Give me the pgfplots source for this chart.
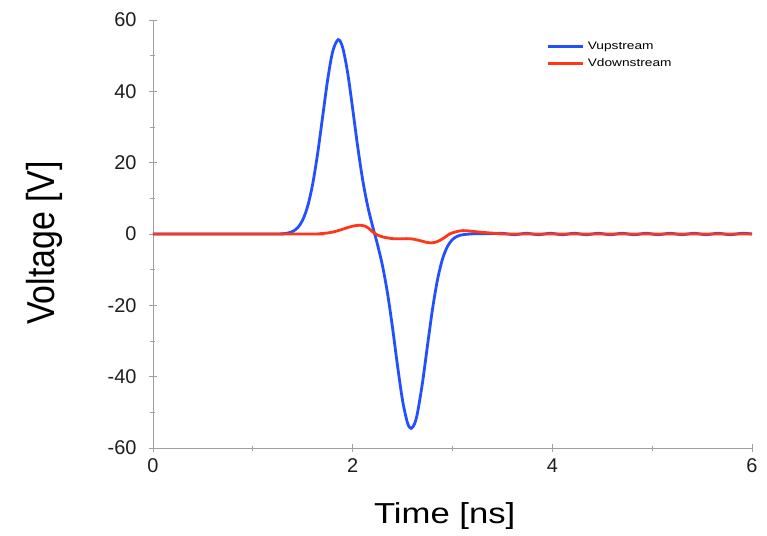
\documentclass[border=0pt]{standalone}
\usepackage{pgfplots}
\pgfplotsset{compat=1.18}
\usepackage{fontspec}
\setmainfont{Liberation Sans}
\definecolor{vblue}{RGB}{35,80,255}
\definecolor{vred}{RGB}{255,55,25}
\definecolor{axgray}{RGB}{160,160,160}
\definecolor{txt}{RGB}{30,30,30}
\begin{document}
\begin{tikzpicture}
\begin{axis}[
  name=ax,
  scale only axis,
  width=599bp, height=428bp,
  xmin=0, xmax=6, ymin=-60, ymax=60,
  axis lines*=left,
  axis line style={draw=axgray, line width=0.8bp, -},
  every tick/.style={draw=axgray, line width=0.8bp},
  tick align=center,
  major tick length=8bp,
  minor tick length=5bp,
  xtick={0,2,4,6}, minor x tick num=1,
  ytick={-60,-40,-20,0,20,40,60}, minor y tick num=1,
  /pgf/number format/assume math mode=true,
  tick label style={font=\fontsize{20}{24}\selectfont, text=txt},
  yticklabel style={xshift=-9bp},
  xticklabel style={yshift=-3bp},
  xlabel={\scalebox{1.2}[1]{\fontsize{29}{34}\selectfont Time [ns]}},
  ylabel={\scalebox{1}[1.15]{\fontsize{34}{40}\selectfont Voltage [V]}},
  xlabel style={at={(rel axis cs:0.487,0)}, anchor=base, yshift=-75bp, inner sep=0pt, text=black},
  ylabel style={at={(rel axis cs:0,0.479)}, anchor=base, yshift=98bp, inner sep=0pt, text=black},
  legend cell align=left,
  legend style={draw=none, fill=none, at={(rel axis cs:0.657,0.958)}, anchor=north west,
    inner sep=0pt, row sep=0pt,
    nodes={inner sep=3.5bp, text height=8bp, text depth=2bp, font=\fontsize{11}{13}\selectfont}},
  legend image code/.code={\draw[#1, line width=2.6bp] (0bp,0bp) -- (35bp,0bp);},
]
\addplot[vblue, line width=2.8bp, smooth] coordinates {
(0,0) (1.2,0) (1.30,0.09) (1.35,0.27) (1.40,0.73) (1.45,1.79) (1.50,3.96) (1.55,7.86)
(1.60,14.08) (1.65,22.73) (1.70,33.06) (1.75,43.33) (1.80,51.18) (1.855,54.5)
(1.90,52.25) (1.95,45.17) (2.00,35.14) (2.05,24.56) (2.10,15.23) (2.15,7.87)
(2.20,2.13) (2.25,-3.08) (2.30,-9.06) (2.35,-16.77) (2.40,-26.42) (2.45,-37.06)
(2.50,-46.72) (2.55,-53.05) (2.586,-54.5) (2.62,-53.2) (2.65,-50.05) (2.70,-41.58) (2.75,-31.14)
(2.80,-21.02) (2.85,-12.78) (2.90,-7.00) (2.95,-3.46) (3.00,-1.54) (3.05,-0.62)
(3.10,-0.22) (3.20,0.05) (3.30,0.1) (3.40,0.1)
(3.50,0.2) (3.62,-0.2) (3.74,0.2) (3.86,-0.2) (3.98,0.2) (4.10,-0.2) (4.22,0.2)
(4.34,-0.2) (4.46,0.2) (4.58,-0.2) (4.70,0.2) (4.82,-0.2) (4.94,0.2) (5.06,-0.2)
(5.18,0.2) (5.30,-0.2) (5.42,0.2) (5.54,-0.2) (5.66,0.2) (5.78,-0.2) (5.90,0.2) (6.0,0)
};
\addlegendentry{\scalebox{1.25}[1]{Vupstream}}
\addplot[vred, line width=2.8bp, smooth] coordinates {
(0,0) (1.60,0) (1.65,0.05) (1.70,0.15) (1.75,0.3) (1.80,0.55) (1.85,0.9) (1.90,1.35)
(1.95,1.8) (2.00,2.2) (2.04,2.4) (2.08,2.45) (2.12,2.25) (2.16,1.6) (2.20,0.6)
(2.25,-0.3) (2.30,-0.8) (2.35,-1.1) (2.40,-1.3) (2.47,-1.35) (2.54,-1.3) (2.60,-1.4)
(2.65,-1.7) (2.70,-2.05) (2.75,-2.4) (2.79,-2.5) (2.83,-2.3) (2.88,-1.7) (2.93,-0.8)
(2.97,0) (3.02,0.5) (3.07,0.85) (3.11,0.95) (3.17,0.85) (3.25,0.6) (3.35,0.35)
(3.45,0.15) (3.56,0) (4.5,0) (6.0,0)
};
\addlegendentry{\scalebox{1.25}[1]{Vdownstream}}
\end{axis}
\path ([shift={(-153bp,-88bp)}]ax.south west) rectangle ([shift={(15bp,20bp)}]ax.north east);
\end{tikzpicture}
\end{document}
